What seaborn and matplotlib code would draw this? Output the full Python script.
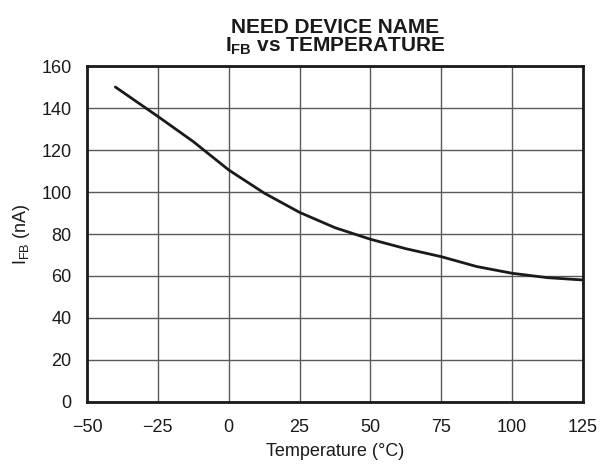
import numpy as np
import matplotlib
matplotlib.use("Agg")
import matplotlib.pyplot as plt
import seaborn as sns
import pandas as pd

# values
temperature = [-40, -25, -12.5, 0, 12.5, 25, 37.5, 50, 62.5, 75, 87.5, 100, 112.5, 125]
i_fb = [150, 136, 124, 110.5, 99.5, 90.3, 83, 77.5, 73, 69.2, 64.5, 61.3, 59.2, 58.1]

x_ticks = [-50, -25, 0, 25, 50, 75, 100, 125]
y_ticks = [0, 20, 40, 60, 80, 100, 120, 140, 160]

df = pd.DataFrame({"Temperature": temperature, "IFB": i_fb})

sns.set_theme(style="white")
plt.rcParams["font.family"] = ["Liberation Sans", "DejaVu Sans"]
plt.rcParams["mathtext.default"] = "regular"

fig = plt.figure(figsize=(6.1, 4.69), dpi=100)
ax = fig.add_axes([87 / 610, 1 - 402 / 469, (583 - 87) / 610, (402 - 66) / 469])

sns.lineplot(data=df, x="Temperature", y="IFB", ax=ax, color="#1a1a1a", linewidth=2)

ax.set_xlim(-50, 125)
ax.set_ylim(0, 160)
ax.set_xticks(x_ticks)
ax.set_yticks(y_ticks)
ax.tick_params(length=0, labelsize=13, colors="#1a1a1a")
ax.tick_params(axis="x", pad=12)
ax.tick_params(axis="y", pad=11)
ax.grid(True, color="#5a5a5a", linewidth=1)
for s in ax.spines.values():
    s.set_color("#1a1a1a")
    s.set_linewidth(2)

ax.set_xlabel("Temperature (°C)", fontsize=13, color="#1a1a1a", labelpad=5)
ax.set_ylabel("I$_{FB}$ (nA)", fontsize=13, color="#1a1a1a", labelpad=7)
ax.set_title("NEED DEVICE NAME\nI$_{FB}$ vs TEMPERATURE", fontsize=15,
             fontweight="bold", color="#1a1a1a", pad=10, linespacing=0.95)

fig.savefig("out.png", dpi=100)
